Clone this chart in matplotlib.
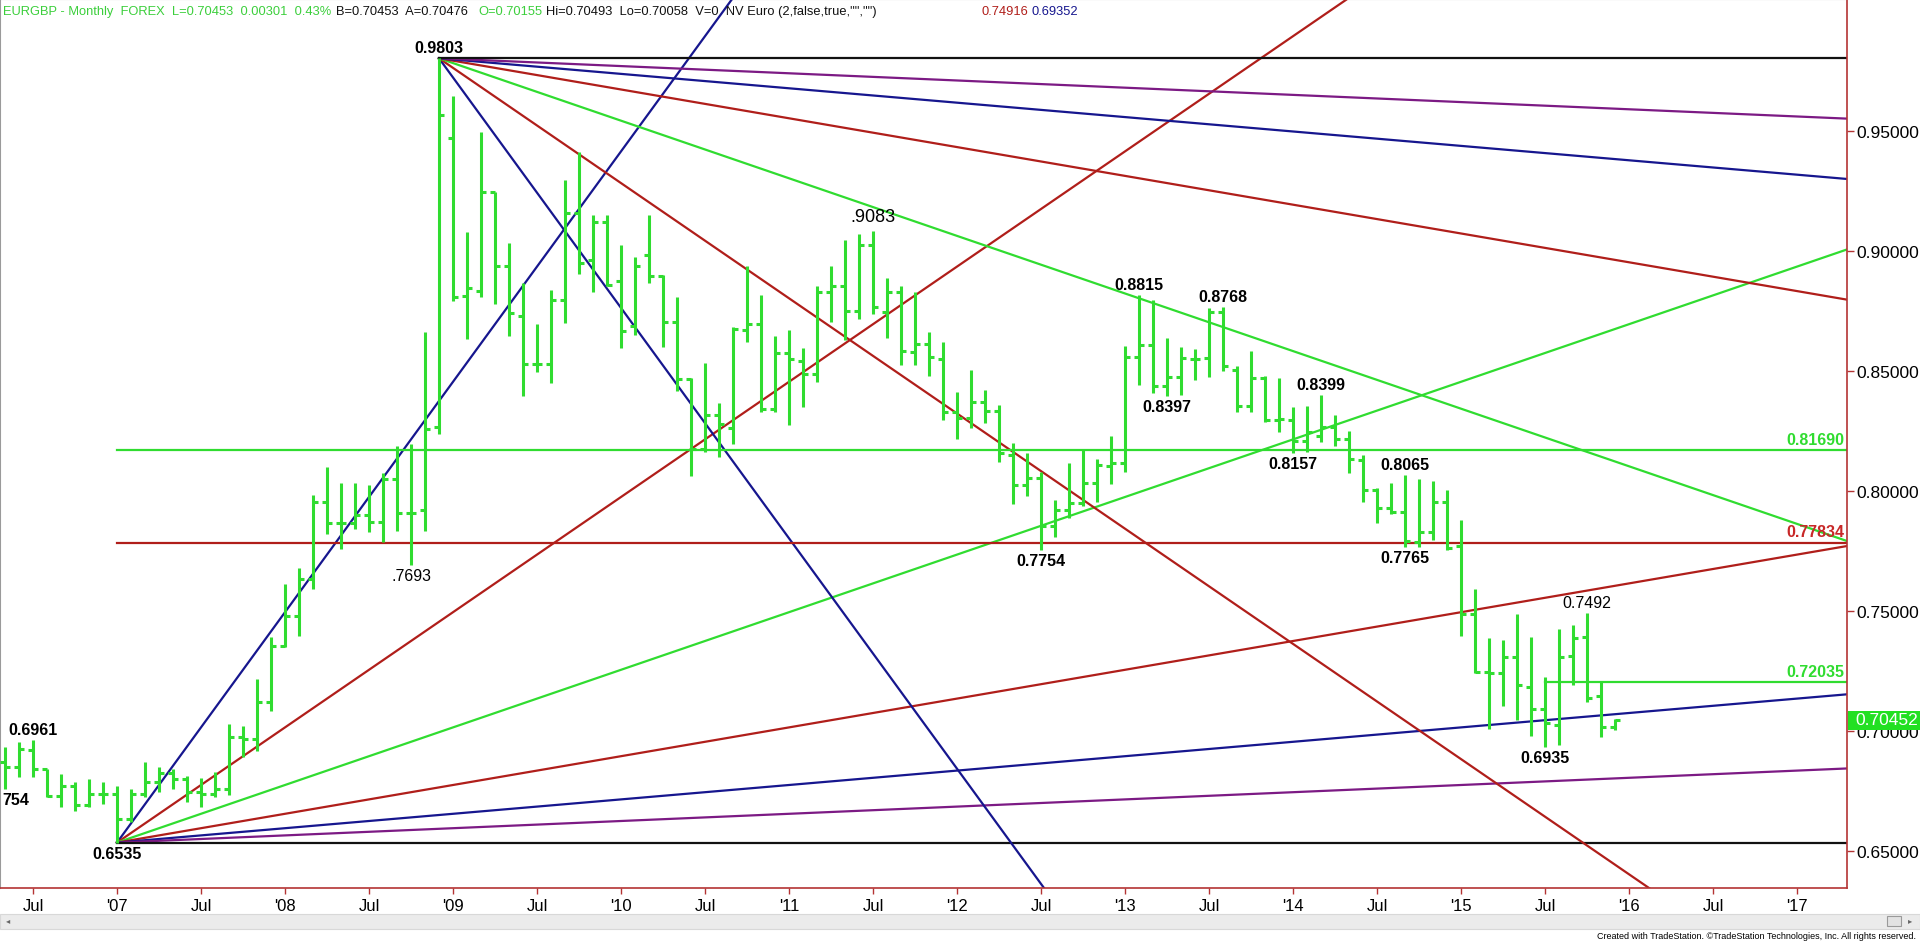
import matplotlib
matplotlib.use("Agg")
from matplotlib import pyplot as plt
from matplotlib.patches import Rectangle

# month index: 0 = Jan 2007, one bar per month (May 2006 .. Dec 2015)
MONTHS = list(range(-8, 108))

OPEN = [
    0.6870, 0.6849, 0.6922, 0.6840, 0.6730, 0.6770, 0.6690, 0.6737,
    0.6737, 0.6633, 0.6737, 0.6789, 0.6824, 0.6800, 0.6744, 0.6737, 0.6758, 0.6974, 0.6967, 0.7122,
    0.7356, 0.7478, 0.7633, 0.7956, 0.7867, 0.7865, 0.7900, 0.7870, 0.8051, 0.7909, 0.7919, 0.8265,
    0.9469, 0.8814, 0.8835, 0.9244, 0.8936, 0.8731, 0.8529, 0.8529, 0.8796, 0.9158, 0.8964, 0.9122,
    0.8876, 0.8689, 0.8983, 0.8897, 0.8706, 0.8467, 0.8175, 0.8317, 0.8261, 0.8672, 0.8696, 0.8342,
    0.8575, 0.8543, 0.8488, 0.8828, 0.8853, 0.8751, 0.9025, 0.8744, 0.8831, 0.8578, 0.8613, 0.8550,
    0.8328, 0.8303, 0.8372, 0.8335, 0.8150, 0.8025, 0.8053, 0.7856, 0.7922, 0.7950, 0.8033, 0.8106,
    0.8117, 0.8557, 0.8608, 0.8439, 0.8474, 0.8550, 0.8553, 0.8744, 0.8506, 0.8356, 0.8469, 0.8297,
    0.8297, 0.8210, 0.8231, 0.8265, 0.8217, 0.8131, 0.8003, 0.7929, 0.7911, 0.7789, 0.7829, 0.7956,
    0.7772, 0.7489, 0.7244, 0.7242, 0.7307, 0.7183, 0.7092, 0.7025, 0.7311, 0.7390, 0.7147, 0.70155,
]
HIGH = [
    0.6932, 0.6955, 0.6961, 0.6842, 0.6821, 0.6786, 0.6800, 0.6786,
    0.6770, 0.6758, 0.6872, 0.6849, 0.6842, 0.6811, 0.6803, 0.6831, 0.7029, 0.7022, 0.7217, 0.7390,
    0.7612, 0.7678, 0.7983, 0.8099, 0.8034, 0.8034, 0.8023, 0.8076, 0.8187, 0.8194, 0.8661, 0.9803,
    0.9647, 0.9081, 0.9497, 0.9247, 0.9033, 0.8867, 0.8696, 0.8839, 0.9297, 0.9411, 0.9150, 0.9150,
    0.9025, 0.8974, 0.9150, 0.8900, 0.8807, 0.8469, 0.8533, 0.8367, 0.8682, 0.8936, 0.8817, 0.8647,
    0.8672, 0.8594, 0.8853, 0.8936, 0.9047, 0.9071, 0.9083, 0.8886, 0.8856, 0.8828, 0.8664, 0.8619,
    0.8411, 0.8506, 0.8422, 0.8358, 0.8200, 0.8158, 0.8078, 0.7964, 0.8117, 0.8172, 0.8133, 0.8228,
    0.8606, 0.8815, 0.8794, 0.8636, 0.8599, 0.8592, 0.8762, 0.8768, 0.8519, 0.8585, 0.8478, 0.8469,
    0.8349, 0.8356, 0.8399, 0.8317, 0.8251, 0.8152, 0.8011, 0.8035, 0.8065, 0.8050, 0.8041, 0.8006,
    0.7879, 0.7593, 0.7386, 0.7381, 0.7486, 0.7390, 0.7226, 0.7424, 0.7440, 0.7492, 0.7203, 0.70493,
]
LOW = [
    0.6758, 0.6807, 0.6807, 0.6724, 0.6685, 0.6668, 0.6685, 0.6696,
    0.6535, 0.6620, 0.6724, 0.6744, 0.6758, 0.6703, 0.6682, 0.6724, 0.6733, 0.6890, 0.6918, 0.7085,
    0.7348, 0.7397, 0.7592, 0.7821, 0.7759, 0.7840, 0.7829, 0.7787, 0.7833, 0.7693, 0.7833, 0.8237,
    0.8793, 0.8633, 0.8807, 0.8779, 0.8647, 0.8397, 0.8497, 0.8450, 0.8700, 0.8904, 0.8828, 0.8856,
    0.8594, 0.8650, 0.8867, 0.8599, 0.8418, 0.8064, 0.8164, 0.8140, 0.8196, 0.8619, 0.8331, 0.8331,
    0.8275, 0.8349, 0.8456, 0.8706, 0.8631, 0.8717, 0.8738, 0.8636, 0.8525, 0.8525, 0.8478, 0.8297,
    0.8217, 0.8261, 0.8283, 0.8119, 0.7946, 0.7978, 0.7754, 0.7807, 0.7886, 0.7936, 0.7953, 0.8029,
    0.8078, 0.8442, 0.8408, 0.8397, 0.8400, 0.8464, 0.8474, 0.8501, 0.8330, 0.8328, 0.8289, 0.8244,
    0.8157, 0.8161, 0.8203, 0.8189, 0.8075, 0.7953, 0.7868, 0.7905, 0.7765, 0.7765, 0.7794, 0.7754,
    0.7396, 0.7240, 0.7008, 0.7106, 0.7047, 0.6980, 0.6935, 0.6942, 0.7190, 0.7120, 0.6976, 0.70058,
]
CLOSE = [
    0.6849, 0.6925, 0.6842, 0.6730, 0.6770, 0.6692, 0.6737, 0.6737,
    0.6633, 0.6737, 0.6789, 0.6824, 0.6800, 0.6747, 0.6737, 0.6758, 0.6974, 0.6967, 0.7122, 0.7356,
    0.7478, 0.7633, 0.7956, 0.7867, 0.7865, 0.7900, 0.7870, 0.8051, 0.7909, 0.7909, 0.8258, 0.9567,
    0.8807, 0.8844, 0.9244, 0.8936, 0.8742, 0.8529, 0.8529, 0.8796, 0.9158, 0.8950, 0.9122, 0.8858,
    0.8668, 0.8939, 0.8897, 0.8706, 0.8467, 0.8175, 0.8317, 0.8280, 0.8675, 0.8696, 0.8342, 0.8575,
    0.8550, 0.8488, 0.8828, 0.8853, 0.8751, 0.9025, 0.8765, 0.8831, 0.8585, 0.8613, 0.8557, 0.8328,
    0.8303, 0.8372, 0.8335, 0.8158, 0.8025, 0.8053, 0.7856, 0.7922, 0.7950, 0.8033, 0.8108, 0.8117,
    0.8557, 0.8608, 0.8439, 0.8474, 0.8553, 0.8550, 0.8744, 0.8522, 0.8356, 0.8469, 0.8297, 0.8300,
    0.8210, 0.8244, 0.8265, 0.8217, 0.8133, 0.8003, 0.7929, 0.7911, 0.7790, 0.7829, 0.7956, 0.7764,
    0.7489, 0.7244, 0.7243, 0.7307, 0.7192, 0.7090, 0.7035, 0.7307, 0.7386, 0.7137, 0.7015, 0.70453,
]

# Gann fans: pivot low / pivot high and the fan slopes (price per month)
LOW_PIVOT = (0, 0.6535)
HIGH_PIVOT = (23, 0.9803)
FAN_SLOPES = [0.008, 0.004, 0.002, 0.001, 0.0005, 0.00025, 0.0]
FAN_COLORS = ["blue", "red", "green", "red", "blue", "purple", "black"]

# horizontal retracement levels
LEVELS = [0.81690, 0.77834, 0.72035]
LEVEL_START = [0, 0, 102]
LEVEL_COLORS = ["green", "red", "green"]
LEVEL_TEXT = ["0.81690", "0.77834", "0.72035"]

# swing labels: month, price, text, above (+1) / below (-1), bold
SWING_LABELS = [
    (-6, 0.6961, "0.6961", 1, True),
    (0, 0.6535, "0.6535", -1, True),
    (21, 0.7693, ".7693", -1, False),
    (23, 0.9803, "0.9803", 1, True),
    (54, 0.9083, ".9083", 1, False),
    (66, 0.7754, "0.7754", -1, True),
    (73, 0.8815, "0.8815", 1, True),
    (75, 0.8397, "0.8397", -1, True),
    (79, 0.8768, "0.8768", 1, True),
    (84, 0.8157, "0.8157", -1, True),
    (86, 0.8399, "0.8399", 1, True),
    (92, 0.8065, "0.8065", 1, True),
    (92, 0.7765, "0.7765", -1, True),
    (102, 0.6935, "0.6935", -1, True),
    (105, 0.7492, "0.7492", 1, False),
]
# low of the first visible bar, its label runs off the left edge
EDGE_LABEL = (0.6758, "754")

TICK_MONTHS = [-6, 0, 6, 12, 18, 24, 30, 36, 42, 48, 54, 60, 66, 72, 78, 84, 90, 96, 102, 108, 114, 120]
TICK_LABELS = ["Jul", "'07", "Jul", "'08", "Jul", "'09", "Jul", "'10", "Jul", "'11", "Jul",
               "'12", "Jul", "'13", "Jul", "'14", "Jul", "'15", "Jul", "'16", "Jul", "'17"]
PRICE_TICKS = [0.65, 0.70, 0.75, 0.80, 0.85, 0.90, 0.95]
LAST_PRICE = 0.70452

HEADER_PARTS = ["EURGBP - Monthly  FOREX  L=0.70453  0.00301  0.43%", "B=0.70453  A=0.70476", "O=0.70155",
                'Hi=0.70493  Lo=0.70058  V=0  NV Euro (2,false,true,"","")', "0.74916", "0.69352"]
HEADER_COLORS = ["hgreen", "black", "hgreen", "black", "red", "blue"]
HEADER_X = [3, 336, 478, 546, 982, 1032]

COLORS = {
    "green": "#30dc30",
    "hgreen": "#3ccf3c",
    "red": "#b01e1a",
    "blue": "#16168e",
    "purple": "#7c1a84",
    "black": "#111111",
}
AXIS_RED = "#b43434"

W, H = 1920, 945
X_MIN, X_MAX = -117 / 14, (1847 - 117) / 14
Y_MIN, Y_MAX = 1.005 - 889 / 2400, 1.005

plt.rcParams["font.family"] = ["Liberation Sans", "DejaVu Sans"]

fig = plt.figure(figsize=(W / 100, H / 100), dpi=100)
ax = fig.add_axes([0, (H - 889) / H, 1847 / W, 889 / H])
ax.set_xlim(X_MIN, X_MAX)
ax.set_ylim(Y_MIN, Y_MAX)

# fan lines
for pivot, sign in [(LOW_PIVOT, 1), (HIGH_PIVOT, -1)]:
    m0, p0 = pivot
    for slope, cname in zip(FAN_SLOPES, FAN_COLORS):
        ax.plot([m0, X_MAX], [p0, p0 + sign * slope * (X_MAX - m0)], color=COLORS[cname], lw=1.6, zorder=2)

# horizontal levels
for level, start, cname, txt in zip(LEVELS, LEVEL_START, LEVEL_COLORS, LEVEL_TEXT):
    ax.plot([start, X_MAX], [level, level], color=COLORS[cname], lw=1.6, zorder=2)
    col = "#c82828" if cname == "red" else COLORS["green"]
    ax.annotate(txt, xy=(X_MAX, level), xytext=(-2, 8), textcoords="offset points",
                ha="right", va="center", fontsize=11.5, fontweight="bold", color=col, zorder=5)

# OHLC bars
half = 0.36
ax.vlines(MONTHS, LOW, HIGH, color=COLORS["green"], lw=2.2, zorder=3)
ax.hlines(OPEN, [m - half for m in MONTHS], MONTHS, color=COLORS["green"], lw=2.2, zorder=3)
ax.hlines(CLOSE, MONTHS, [m + half for m in MONTHS], color=COLORS["green"], lw=2.2, zorder=3)

# swing labels
for m, p, txt, side, bold in SWING_LABELS:
    big = txt == ".9083"
    ax.annotate(txt, xy=(m, p), xytext=(0, 10.5 if big else 7.5 * side), textcoords="offset points",
                ha="center", va="center", fontsize=13 if big else 11.5,
                fontweight="bold" if bold else "normal", color="black", zorder=5)
ax.annotate(EDGE_LABEL[1], xy=(X_MIN, EDGE_LABEL[0]), xytext=(2, -7.5), textcoords="offset points",
            ha="left", va="center", fontsize=11.5, fontweight="bold", color="black", zorder=5)

# axes styling
for side in ["left", "top"]:
    ax.spines[side].set_color("#9a9a9a")
    ax.spines[side].set_linewidth(1.5)
for side in ["right", "bottom"]:
    ax.spines[side].set_color(AXIS_RED)
    ax.spines[side].set_linewidth(1.2)

ax.yaxis.tick_right()
ax.set_yticks(PRICE_TICKS)
ax.set_yticklabels([f"{p:.5f}" for p in PRICE_TICKS])
ax.tick_params(axis="y", length=5, width=1, color=AXIS_RED, labelsize=12.5, pad=2)
ax.set_xticks(TICK_MONTHS)
ax.set_xticklabels(TICK_LABELS)
ax.tick_params(axis="x", length=4, width=1, color=AXIS_RED, labelsize=12, pad=3)

# last price marker on the price scale
fig.patches.append(Rectangle((1848 / W, (H - 731) / H), 72 / W, 19 / H, transform=fig.transFigure,
                             facecolor="#22e022", edgecolor="none", zorder=10))
fig.text(1855 / W, (H - 721) / H, f"{LAST_PRICE:.5f}", color="white", fontsize=12.5, va="center",
         ha="left", zorder=11)

# header line
for part, cname, x in zip(HEADER_PARTS, HEADER_COLORS, HEADER_X):
    fig.text(x / W, (H - 12) / H, part, color=COLORS[cname], fontsize=9.3, va="center", ha="left")

# scroll bar and footer
fig.patches.append(Rectangle((0, (H - 930) / H), 1, 15 / H, transform=fig.transFigure,
                             facecolor="#ebebeb", edgecolor="#d8d8d8", lw=0.8))
fig.patches.append(Rectangle((1887 / W, (H - 927) / H), 14 / W, 10 / H, transform=fig.transFigure,
                             facecolor="#e2e2e2", edgecolor="#9a9a9a", lw=0.8))
fig.text(6 / W, (H - 922) / H, "\u25c2", fontsize=6, color="#666666", va="center")
fig.text(1908 / W, (H - 922) / H, "\u25b8", fontsize=6, color="#666666", va="center")
fig.text(1916 / W, (H - 937) / H, "Created with TradeStation. \u00a9TradeStation Technologies, Inc. All rights reserved.",
         ha="right", va="center", fontsize=6.5)

fig.savefig("out.png", dpi=100, facecolor="white")
